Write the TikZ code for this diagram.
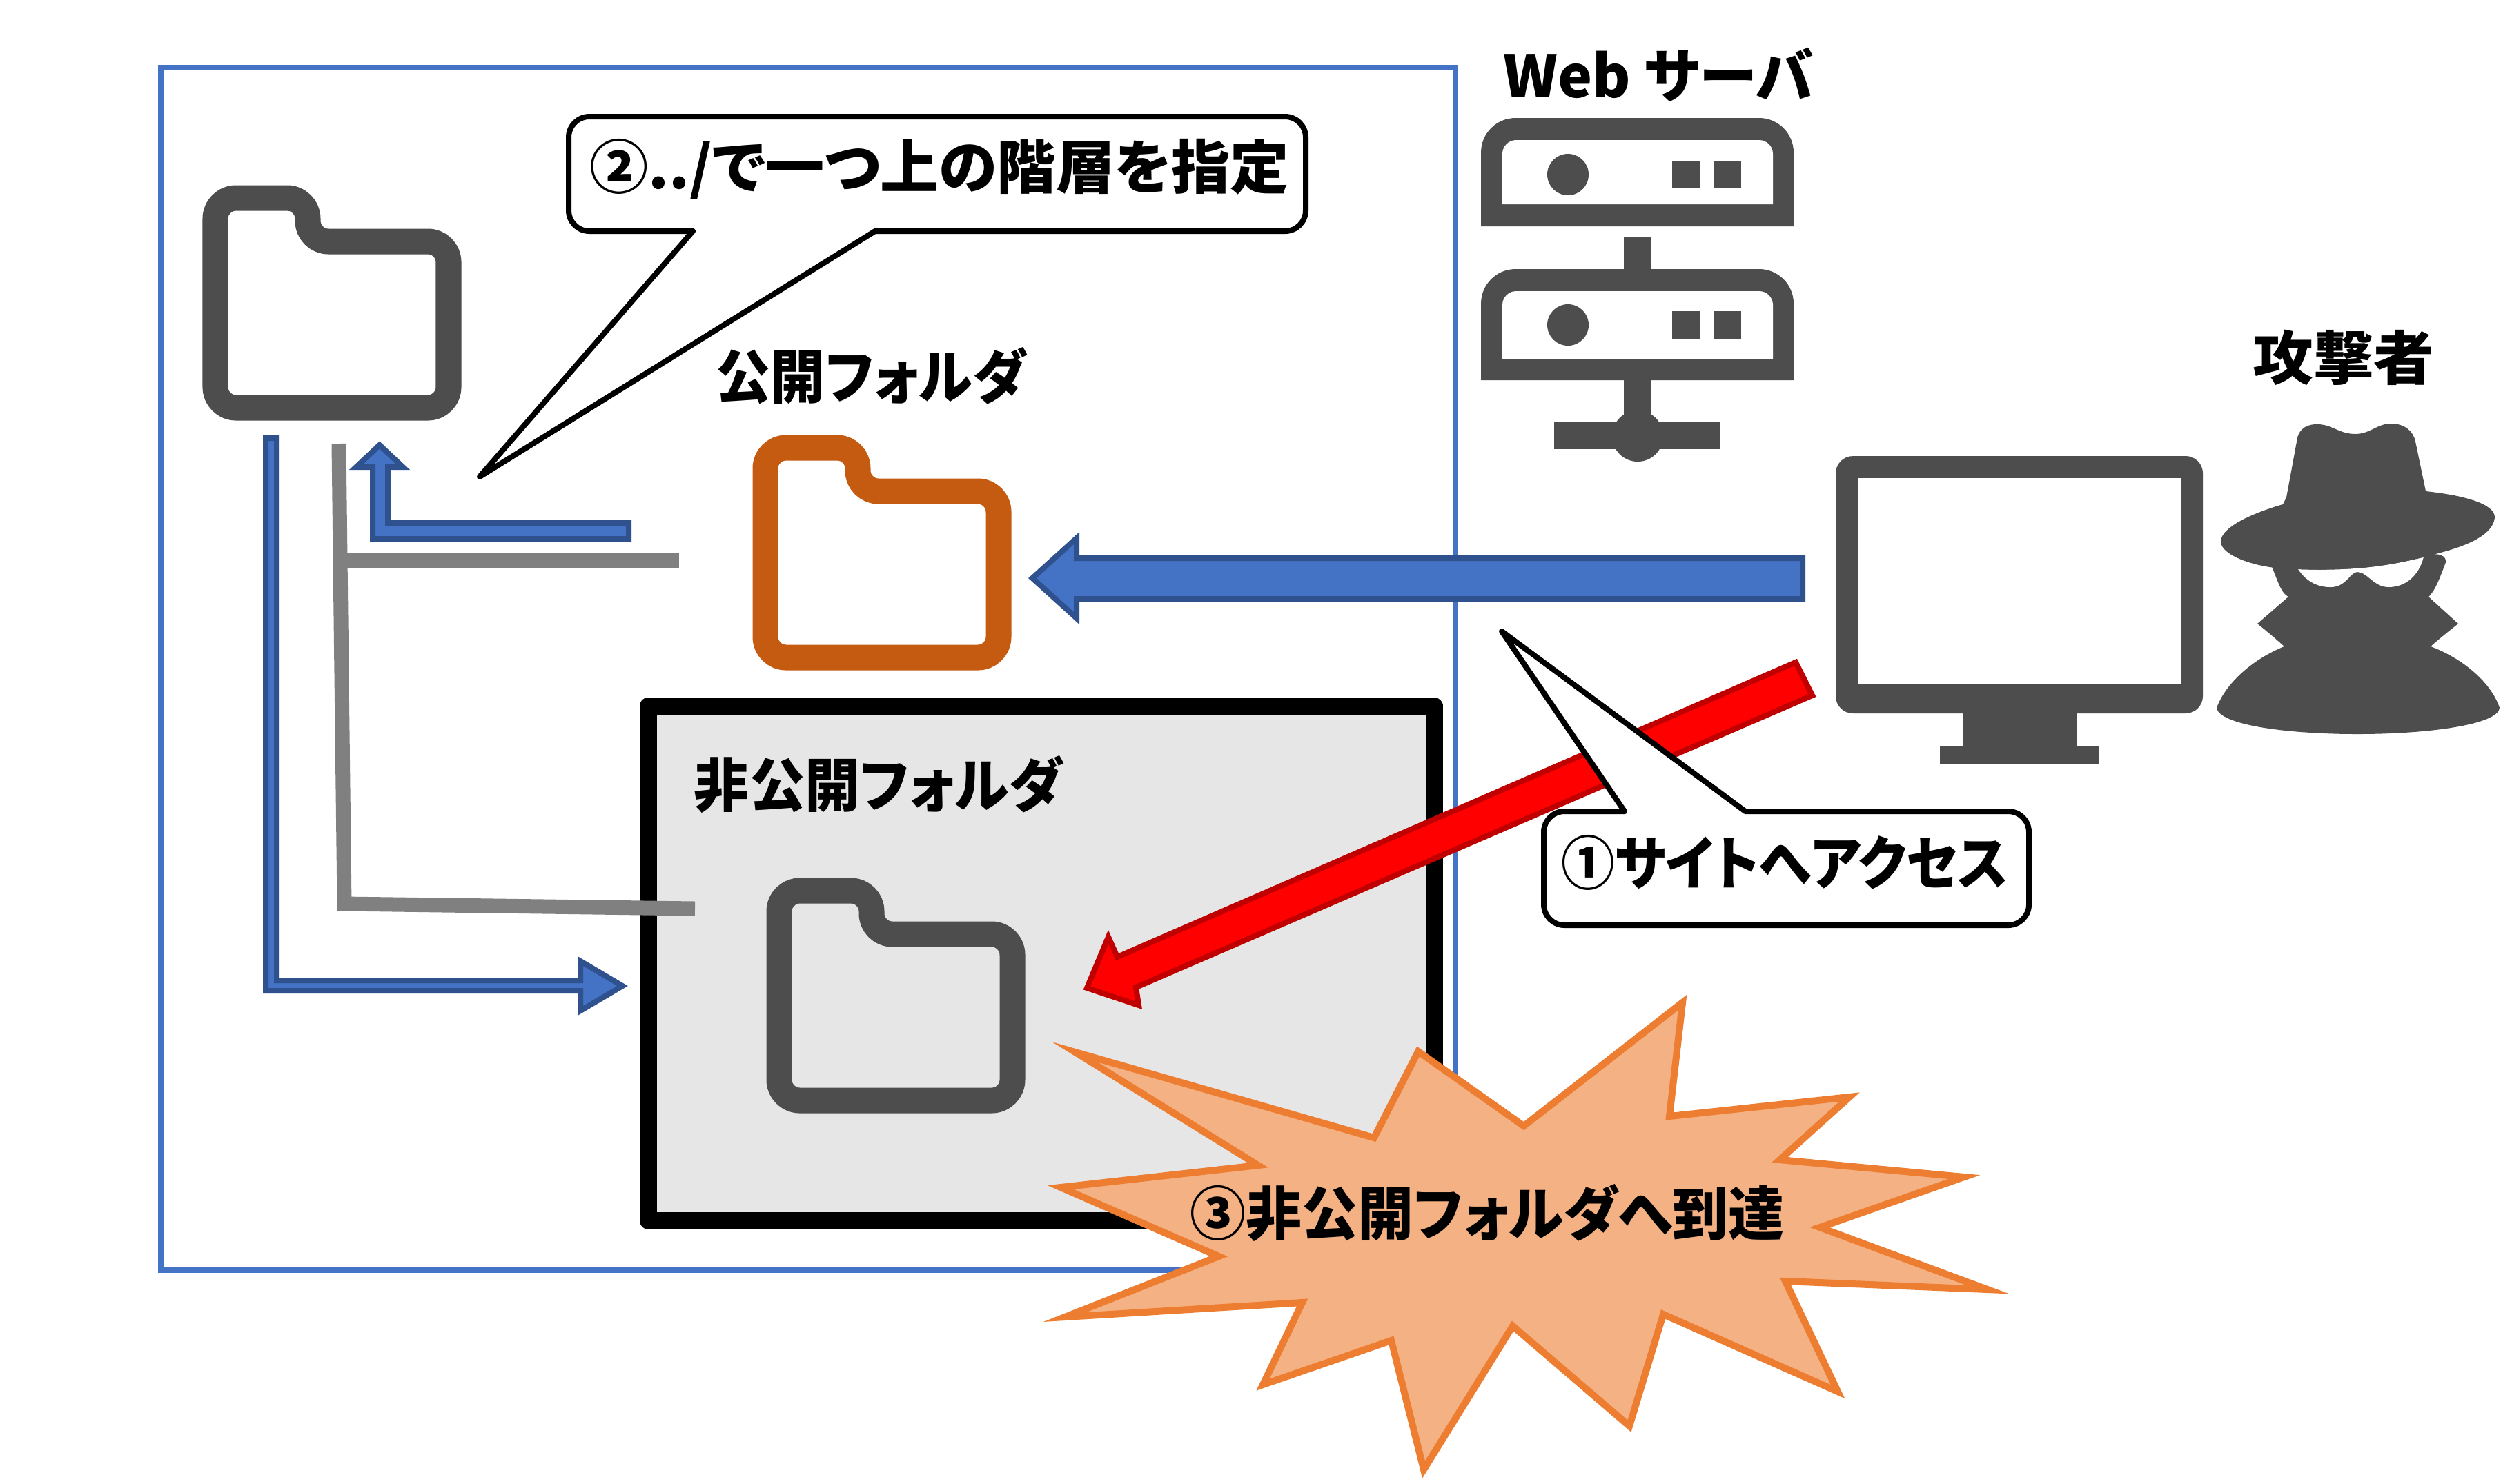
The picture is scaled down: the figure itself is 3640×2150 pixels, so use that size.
\documentclass[tikz,border=0pt]{standalone}
\usepackage{graphicx}
\usepackage{fontspec}
\setmainfont{Noto Sans CJK JP}[BoldFont={Noto Sans CJK JP Black},RawFeature={+palt}]
\usepackage{xcolor}
\definecolor{framecol}{HTML}{4472C4}
\definecolor{arrowedge}{HTML}{2F528F}
\definecolor{icongray}{HTML}{4D4D4D}
\definecolor{folderorange}{HTML}{C55A11}
\definecolor{wiregray}{HTML}{808080}
\definecolor{boxfill}{HTML}{E6E6E6}
\definecolor{attackred}{HTML}{FF0000}
\definecolor{attackedge}{HTML}{C00000}
\definecolor{burstfill}{HTML}{F4B183}
\definecolor{burstedge}{HTML}{ED7D31}
\tikzset{
  label text/.style={font=\bfseries\fontsize{24}{28}\selectfont, inner sep=0pt},
  folderline/.style={line width=0.37cm, rounded corners=0.3cm},
  wire/.style={draw=wiregray, line width=0.21cm},
  blockblue/.style={fill=framecol, draw=arrowedge, line width=0.08cm, line join=miter},
  blockred/.style={fill=attackred, draw=attackedge, line width=0.08cm, line join=miter},
  balloon/.style={fill=white, draw=black, line width=0.08cm, line join=round}
}

\begin{document}
\begin{tikzpicture}[x=0.01cm, y=-0.01cm]
  \fill[white] (0,0) rectangle (3640,2150);

  % Server frame
  \draw[framecol, line width=0.08cm] (233,98) rectangle (2109,1841);

  % Private area
  \draw[black, fill=boxfill, line width=0.25cm, line join=round] (939,1023) rectangle (2078,1769);

  % Directory lines
  \draw[wire, line join=miter] (491,643) -- (499,1310) -- (1007,1317);
  \draw[wire] (495,812) -- (984,812);

  % Folders
  \foreach \fx/\fy/\fcol in {312/287/icongray, 1109/649/folderorange, 1129/1291/icongray} {
    \draw[folderline, draw=\fcol, shift={(\fx,\fy)}]
      (0,304) -- (0,0) -- (134,0) -- (134,63) -- (338,63) -- (338,304) -- cycle;
  }

  % Path arrows
  \draw[blockblue] (911,781) -- (540,781) -- (540,677) -- (516,677) -- (550,645)
    -- (584,677) -- (562,677) -- (562,758) -- (911,758) -- cycle;
  \draw[blockblue] (385,635) -- (385,1436) -- (841,1436) -- (841,1465) -- (902,1429)
    -- (841,1393) -- (841,1421) -- (401,1421) -- (401,635) -- cycle;
  \draw[blockblue] (2612,809) -- (1560,809) -- (1560,780) -- (1496,838) -- (1560,896)
    -- (1560,868) -- (2612,868) -- cycle;
  \draw[blockred] (2602,960) -- (2626,1008) -- (1646,1431) -- (1650,1457) -- (1575,1432)
    -- (1606,1358) -- (1619,1387) -- cycle;

  % Server icon
  \foreach \ytop/\ybot/\yintop/\yinbot/\ymid in {171/328/203/296/253, 390/551/422/520/471} {
    \fill[icongray, rounded corners=0.5cm] (2146,\ybot) -- (2146,\ytop) -- (2599,\ytop)
      -- (2599,\ymid) [sharp corners] -- (2599,\ybot) -- cycle;
    \fill[white, rounded corners=0.2cm] (2177,\yinbot) -- (2177,\yintop) -- (2569,\yintop)
      -- (2569,\ymid) [sharp corners] -- (2569,\yinbot) -- cycle;
    \fill[icongray] (2272,\ymid) circle[radius=30];
    \fill[icongray] (2423,\ymid-20) rectangle (2463,\ymid+20);
    \fill[icongray] (2483,\ymid-20) rectangle (2523,\ymid+20);
  }
  \fill[icongray] (2353,344) rectangle (2393,390);
  \fill[icongray] (2353,551) rectangle (2393,610);
  \fill[icongray] (2252,611) rectangle (2493,651);
  \fill[icongray] (2373,632) circle[radius=37];

  % Monitor
  \fill[icongray, rounded corners=0.25cm] (2660,661) rectangle (3192,1034);
  \fill[white] (2692,693) rectangle (3160,992);
  \fill[icongray] (2845,1030) rectangle (3010,1082);
  \fill[icongray] (2811,1082) rectangle (3042,1107);

  % Attacker
  \fill[icongray] (3291,819) .. controls (3300,840) and (3305,860) .. (3316,865)
    -- (3271,904) .. controls (3285,915) and (3300,928) .. (3310,937)
    .. controls (3265,955) and (3225,990) .. (3212,1026)
    .. controls (3215,1050) and (3310,1064) .. (3416,1064)
    .. controls (3520,1064) and (3620,1050) .. (3622,1026)
    .. controls (3610,990) and (3570,955) .. (3522,937)
    .. controls (3532,928) and (3548,915) .. (3562,904) -- (3519,865)
    .. controls (3530,855) and (3538,830) .. (3544,815)
    .. controls (3545,806) and (3535,800) .. (3513,805) -- cycle;
  \fill[white] (3330,825) .. controls (3400,828) and (3460,822) .. (3512,807)
    .. controls (3505,835) and (3485,851) .. (3461,851)
    .. controls (3440,851) and (3430,829) .. (3416,829)
    .. controls (3405,829) and (3400,851) .. (3377,851)
    .. controls (3355,851) and (3340,840) .. (3330,825) -- cycle;
  \fill[icongray] (3328,640) .. controls (3330,620) and (3345,614) .. (3360,615)
    .. controls (3380,616) and (3390,629) .. (3413,629)
    .. controls (3435,629) and (3445,613) .. (3467,614)
    .. controls (3485,615) and (3497,625) .. (3500,640)
    -- (3515,712) .. controls (3570,718) and (3615,730) .. (3615,750)
    .. controls (3612,780) and (3560,795) .. (3529,803)
    .. controls (3480,818) and (3400,828) .. (3328,825)
    .. controls (3270,825) and (3218,805) .. (3218,785)
    .. controls (3218,765) and (3260,745) .. (3308,731)
    -- (3313,721) -- cycle;

  % Attack arrow callout
  \draw[balloon] (2354,1176) -- (2176,915) -- (2529,1176)
    [rounded corners=0.3cm] -- (2940,1176) -- (2940,1341) -- (2237,1341) -- (2237,1176)
    [sharp corners] -- cycle;
  \node[label text] (stepone) at (2586,1250) {\scalebox{0.92}[1]{①サイトへアクセス}};

  % Traversal callout
  \draw[balloon] (1004,335) -- (695,691) -- (1268,335)
    [rounded corners=0.3cm] -- (1892,335) -- (1892,169) -- (824,169) -- (824,335)
    [sharp corners] -- cycle;
  \node[label text] (steptwo) at (1361,245) {\scalebox{1.01}[1]{②../で一つ上の階層を指定}};

  % Burst
  \draw[fill=burstfill, draw=burstedge, line width=0.1cm, line join=miter]
    (2438,1453) -- (2419,1618) -- (2680,1590) -- (2579,1681) -- (2846,1706) -- (2637,1779)
    -- (2880,1869) -- (2587,1857) -- (2663,2017) -- (2410,1905) -- (2361,2067) -- (2192,1922)
    -- (2063,2130) -- (2016,1943) -- (1830,2007) -- (1887,1888) -- (1543,1909) -- (1766,1821)
    -- (1537,1721) -- (1823,1689) -- (1558,1525) -- (1991,1649) -- (2055,1524) -- (2208,1632) -- cycle;
  \node[label text] (stepthree) at (2155,1758) {\scalebox{0.96}[1]{③非公開フォルダへ到達}};

  % Labels
  \node[label text] (webserver) at (2403,108) {Web サーバ};
  \node[label text] (attacker) at (3396,518) {\scalebox{1.04}[1]{攻撃者}};
  \node[label text] (publicdir) at (1262,545) {\scalebox{0.94}[1]{公開フォルダ}};
  \node[label text] (privatedir) at (1273,1137) {\scalebox{0.95}[1]{非公開フォルダ}};
\end{tikzpicture}
\end{document}
